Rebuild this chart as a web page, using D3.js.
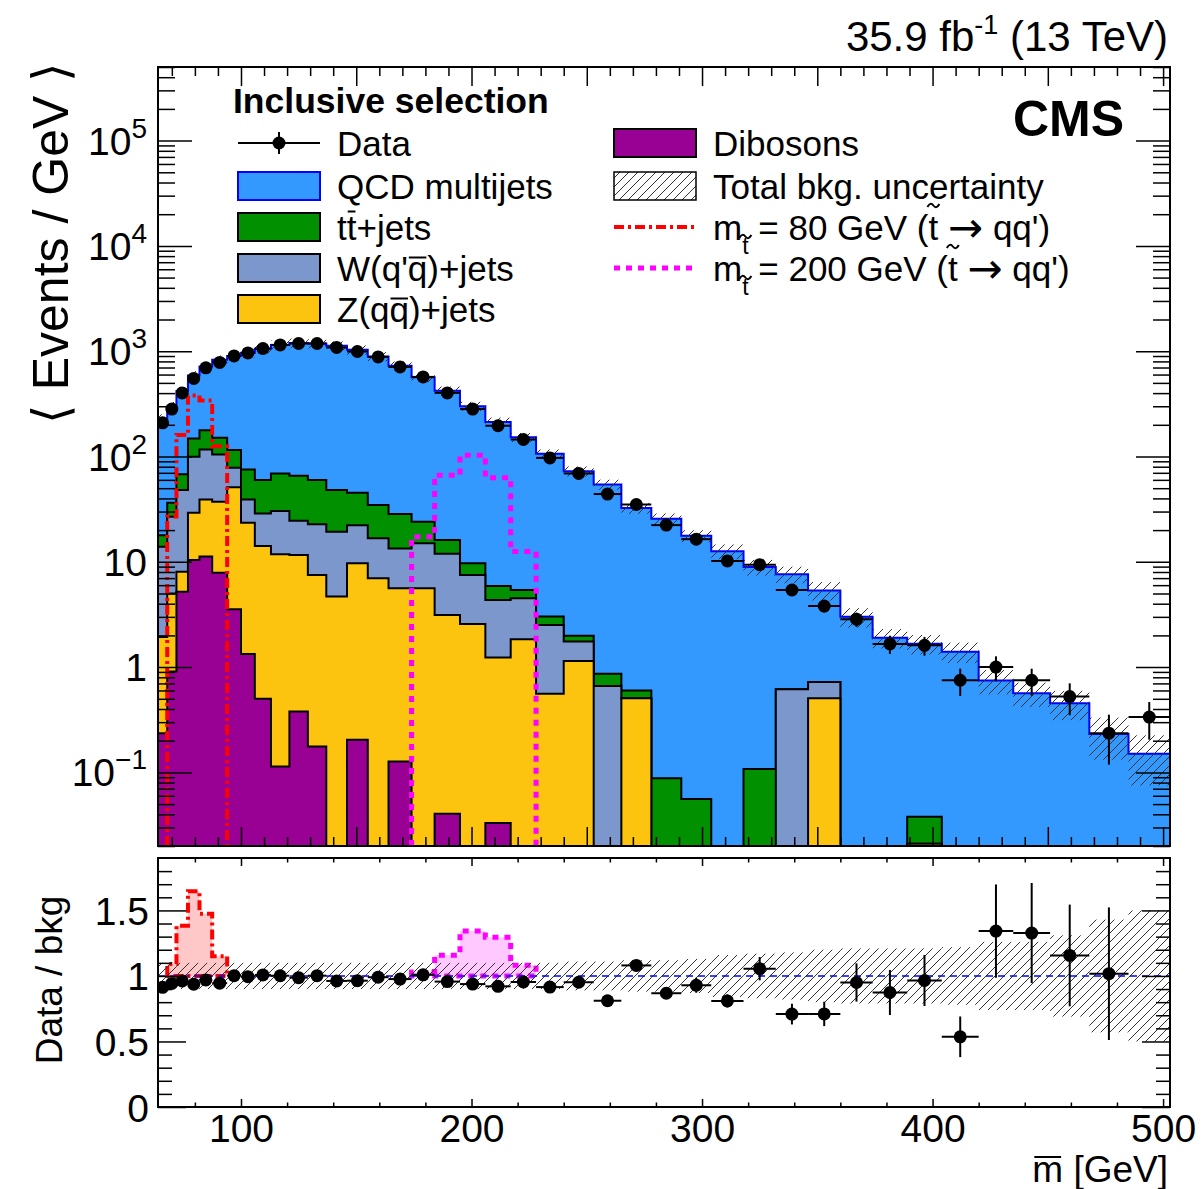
<!DOCTYPE html>
<html><head><meta charset="utf-8">
<script src="https://cdn.jsdelivr.net/npm/d3@7"></script>
<style>body{margin:0;background:#fff} svg{font-family:"Liberation Sans",Arial,Helvetica,sans-serif}</style>
</head><body><svg id="c" width="1201" height="1189"></svg>
<script>
// ---------- data ----------
const binEdges = [64,68,72,77,82,87.5,94,100,106,113,121,129,137,146,155,164,174,184,195,206,217,228,240,253,265,278,291,304,318,332,346,360,374,389,404,420,435,451,468,485,503];
const dataValues = [209,282,402,551,695,782,902,963,1061,1148,1183,1183,1084,993,883,709,570,402,282,196,145,97,69,44,35,22.3,16.4,10.2,9.4,5.4,3.8,2.85,1.66,1.61,0.75,1.0,0.75,0.525,0.236,0.335];
const ratioErrors = [0.01,0.01,0.01,0.01,0.01,0.01,0.01,0.01,0.01,0.01,0.01,0.01,0.01,0.01,0.01,0.01,0.01,0.01,0.01,0.01,0.012,0.015,0.018,0.022,0.03,0.035,0.057,0.05,0.089,0.079,0.093,0.146,0.172,0.195,0.155,0.356,0.382,0.388,0.506,0.87];
const qcd = [211,262.6,350,440,539,677,785,893,993,1077,1133,1121,1079,985,857,698,541,404,291,207,146.6,103,70.5,53.4,31.8,25.6,17.6,12.6,8.8,7.0,4.63,3.0,1.9,1.63,1.40,0.745,0.565,0.454,0.232,0.15];
const ttbar = [4.0,9.6,20,48.6,61.3,46,36.8,36.3,30.9,38.8,41.1,36.9,28.7,23.0,17.9,15.0,9.0,4.2,2.18,1.55,0.9,0.51,0.23,0.2,0.093,0.088,0.056,0,0.108,0,0,0,0,0.017,0,0,0,0,0,0];
const wjets = [11.96,21.8,39.95,70.1,77.6,67.4,27.3,15.6,14.7,18.5,13.0,15.3,14.6,12.6,9.73,7.8,9.4,8.77,4.92,3.11,2.66,1.95,0.605,0.663,0,0,0,0,0,0.616,0.213,0,0,0,0,0,0,0,0,0];
const zjets = [1.70,4.09,2.85,18.9,27.9,29.35,47.4,22.2,13.6,11.7,11.2,7.31,4.67,9.47,6.97,5.47,5.6,3.09,2.57,1.20,1.84,0.557,1.145,0,0.506,0,0,0,0,0,0.507,0,0,0.021,0,0,0,0,0,0];
const dibosons = [0.236,0.906,5.2,10.4,11.2,7.85,3.54,1.33,0.5,0.114,0.379,0.176,0,0.204,0,0.127,0,0.0405,0,0.033,0,0,0,0,0,0,0,0,0,0,0,0,0,0,0,0,0,0,0,0];
const bkgUncertainty = [0.10,0.10,0.10,0.10,0.10,0.10,0.10,0.10,0.10,0.10,0.10,0.10,0.10,0.10,0.10,0.10,0.10,0.10,0.10,0.10,0.10,0.10,0.11,0.11,0.12,0.12,0.13,0.16,0.17,0.18,0.20,0.21,0.21,0.21,0.22,0.26,0.26,0.31,0.43,0.50];
const signal80 = [0,27,160,380,340,125,0,0,0,0,0,0,0,0,0,0,0,0,0,0,0,0,0,0,0,0,0,0,0,0,0,0,0,0,0,0,0,0,0,0];
const signal200 = [0,0,0,0,0,0,0,0,0,0,0,0,0,0,0,0,17.3,66.5,103,62.8,12.5,0,0,0,0,0,0,0,0,0,0,0,0,0,0,0,0,0,0,0];
const xTickLabels = [100,200,300,400,500];
const ratioTickLabels = [0,0.5,1,1.5];
const yDecades = [-1,0,1,2,3,4,5];

// ---------- layout ----------
const L=158,R=1170,T1=67,B1=846,T2=858,B2=1107;
const FONT='"Liberation Sans",Arial,Helvetica,sans-serif';
const svg=d3.select('#c');
const x=d3.scaleLinear().domain([binEdges[0],binEdges[binEdges.length-1]]).range([L,R]);
const y=d3.scaleLog().domain([0.02,5e5]).range([B1,T1]);
const yr=d3.scaleLinear().domain([0,1.9]).range([B2,T2]);
const n=dataValues.length;

const defs=svg.append('defs');
const pat=defs.append('pattern').attr('id','hatch').attr('patternUnits','userSpaceOnUse').attr('width',9).attr('height',9);
pat.append('path').attr('d','M0,9L9,0M-2,2L2,-2M7,11L11,7').attr('stroke','#333').attr('stroke-width',1);
defs.append('clipPath').attr('id','clipMain').append('rect').attr('x',L).attr('y',T1).attr('width',R-L).attr('height',B1-T1);
defs.append('clipPath').attr('id','clipRatio').append('rect').attr('x',L).attr('y',T2).attr('width',R-L).attr('height',B2-T2);

// ---------- stack ----------
const layers=[dibosons,zjets,wjets,ttbar,qcd];
const layerColors=['#990094','#fcc40f','#7b97cc','#009000','#3399ff'];
const cum=[]; let run=new Array(n).fill(0);
layers.forEach(a=>{run=run.map((v,i)=>v+a[i]); cum.push(run.slice());});
const total=cum[4];

function stepPath(vals, ys, base){
  let d=`M${x(binEdges[0])},${base}`;
  vals.forEach((v,i)=>{const yy=v>0?Math.min(base,ys(v)):base; d+=`L${x(binEdges[i])},${yy}L${x(binEdges[i+1])},${yy}`;});
  d+=`L${x(binEdges[n])},${base}Z`;
  return d;
}
const gMain=svg.append('g').attr('clip-path','url(#clipMain)');
for(let k=4;k>=0;k--){
  gMain.append('path').attr('d',stepPath(cum[k],y,B1)).attr('fill',layerColors[k])
    .attr('stroke',k===4?'#0000ff':'#000').attr('stroke-width',2).attr('stroke-linejoin','miter');
}
// uncertainty band
gMain.selectAll('rect.unc').data(total).enter().append('rect').attr('class','unc')
  .attr('x',(d,i)=>x(binEdges[i])).attr('width',(d,i)=>x(binEdges[i+1])-x(binEdges[i]))
  .attr('y',(d,i)=>y(d*(1+bkgUncertainty[i])))
  .attr('height',(d,i)=>Math.min(B1,y(d*(1-bkgUncertainty[i])))-y(d*(1+bkgUncertainty[i])))
  .attr('fill','url(#hatch)');
// signals (main)
function sigPath(sig, ys, base, valFn){
  const idx=sig.map((v,i)=>v>0?i:-1).filter(i=>i>=0);
  const i0=idx[0], i1=idx[idx.length-1];
  let d=`M${x(binEdges[i0])},${base}`;
  for(let i=i0;i<=i1;i++){const yy=ys(valFn(i)); d+=`L${x(binEdges[i])},${yy}L${x(binEdges[i+1])},${yy}`;}
  d+=`L${x(binEdges[i1+1])},${base}`;
  return d;
}
gMain.append('path').attr('d',sigPath(signal80,y,B1,i=>signal80[i])).attr('fill','none')
  .attr('stroke','#ff0000').attr('stroke-width',4).attr('stroke-dasharray','10,4,3,4');
gMain.append('path').attr('d',sigPath(signal200,y,B1,i=>signal200[i])).attr('fill','none')
  .attr('stroke','#ff00ff').attr('stroke-width',5).attr('stroke-dasharray','6,6');
// data (main)
const gData=gMain.append('g');
dataValues.forEach((v,i)=>{
  const e=ratioErrors[i]*total[i];
  const cx=x((binEdges[i]+binEdges[i+1])/2);
  const lo=v-e>0?y(v-e):B1;
  gData.append('line').attr('x1',cx).attr('x2',cx).attr('y1',y(v+e)).attr('y2',lo).attr('stroke','#000').attr('stroke-width',2);
  gData.append('line').attr('x1',x(binEdges[i])).attr('x2',x(binEdges[i+1])).attr('y1',y(v)).attr('y2',y(v)).attr('stroke','#000').attr('stroke-width',2);
  gData.append('circle').attr('cx',cx).attr('cy',y(v)).attr('r',6.5).attr('fill','#000');
});

// ---------- ratio ----------
const gRat=svg.append('g').attr('clip-path','url(#clipRatio)');
function ratioSig(sig){
  return sigPath(sig,yr,yr(1),i=>(total[i]+sig[i])/total[i])+'Z';
}
gRat.append('path').attr('d',ratioSig(signal80)).attr('fill','#ffc8c8').attr('stroke','#ff0000')
  .attr('stroke-width',4).attr('stroke-dasharray','10,4,3,4');
gRat.append('path').attr('d',ratioSig(signal200)).attr('fill','#ffc8ff').attr('stroke','#ff00ff')
  .attr('stroke-width',5).attr('stroke-dasharray','6,6');
gRat.selectAll('rect.unc').data(bkgUncertainty).enter().append('rect').attr('class','unc')
  .attr('x',(d,i)=>x(binEdges[i])).attr('width',(d,i)=>x(binEdges[i+1])-x(binEdges[i]))
  .attr('y',d=>yr(1+d)).attr('height',d=>yr(1-d)-yr(1+d)).attr('fill','url(#hatch)');
gRat.append('line').attr('x1',L).attr('x2',R).attr('y1',yr(1)).attr('y2',yr(1))
  .attr('stroke','#0000ff').attr('stroke-width',1.5).attr('stroke-dasharray','7,5');
dataValues.forEach((v,i)=>{
  const r=v/total[i]; if(r>1.9) return;
  const e=ratioErrors[i];
  const cx=x((binEdges[i]+binEdges[i+1])/2);
  gRat.append('line').attr('x1',cx).attr('x2',cx).attr('y1',yr(r+e)).attr('y2',yr(Math.max(0,r-e))).attr('stroke','#000').attr('stroke-width',2);
  gRat.append('line').attr('x1',x(binEdges[i])).attr('x2',x(binEdges[i+1])).attr('y1',yr(r)).attr('y2',yr(r)).attr('stroke','#000').attr('stroke-width',2);
  gRat.append('circle').attr('cx',cx).attr('cy',yr(r)).attr('r',6.5).attr('fill','#000');
});

// ---------- axes / ticks ----------
function tickAxis(axisGen, tr, values, size){
  const g=svg.append('g').attr('transform',tr).call(axisGen.tickValues(values).tickSize(size).tickFormat(''));
  g.select('.domain').remove();
  g.selectAll('line').attr('stroke','#000').attr('stroke-width',1.5);
}
const xMainTicks=d3.range(70,501,10);
const xMainMajor=xMainTicks.filter(v=>v%50===0), xMainMinor=xMainTicks.filter(v=>v%50!==0);
tickAxis(d3.axisBottom(x),`translate(0,${B1})`,xMainMajor,-19);
tickAxis(d3.axisBottom(x),`translate(0,${B1})`,xMainMinor,-9);
tickAxis(d3.axisTop(x),`translate(0,${T1})`,xMainMajor,-19);
tickAxis(d3.axisTop(x),`translate(0,${T1})`,xMainMinor,-9);
const logMajor=[],logMinor=[];
for(let d=-2;d<=5;d++) for(let k=1;k<=9;k++){const v=k*Math.pow(10,d); if(v>=0.02&&v<=5e5){(k===1?logMajor:logMinor).push(v);}}
tickAxis(d3.axisLeft(y),`translate(${L},0)`,logMajor,-34);
tickAxis(d3.axisLeft(y),`translate(${L},0)`,logMinor,-17);
tickAxis(d3.axisRight(y),`translate(${R},0)`,logMajor,-34);
tickAxis(d3.axisRight(y),`translate(${R},0)`,logMinor,-17);
const xRatTicks=d3.range(80,501,20);
const xRatMajor=xRatTicks.filter(v=>v%100===0), xRatMinor=xRatTicks.filter(v=>v%100!==0);
tickAxis(d3.axisBottom(x),`translate(0,${B2})`,xRatMajor,-8);
tickAxis(d3.axisBottom(x),`translate(0,${B2})`,xRatMinor,-4.5);
tickAxis(d3.axisTop(x),`translate(0,${T2})`,xRatMajor,-8);
tickAxis(d3.axisTop(x),`translate(0,${T2})`,xRatMinor,-4.5);
const yRatTicks=d3.range(0,19).map(v=>v/10);
const yRatMajor=yRatTicks.filter(v=>Math.round(v*10)%5===0), yRatMinor=yRatTicks.filter(v=>Math.round(v*10)%5!==0);
tickAxis(d3.axisLeft(yr),`translate(${L},0)`,yRatMajor,-28);
tickAxis(d3.axisLeft(yr),`translate(${L},0)`,yRatMinor,-14);
tickAxis(d3.axisRight(yr),`translate(${R},0)`,yRatMajor,-28);
tickAxis(d3.axisRight(yr),`translate(${R},0)`,yRatMinor,-14);

// frames
[[T1,B1],[T2,B2]].forEach(([t,b])=>svg.append('rect').attr('x',L).attr('y',t).attr('width',R-L).attr('height',b-t)
  .attr('fill','none').attr('stroke','#000').attr('stroke-width',2));

// tick labels
const LBL=39;
const gx=svg.append('g').attr('transform',`translate(0,${B2})`)
  .call(d3.axisBottom(x).tickValues(xTickLabels).tickSize(0).tickPadding(7).tickFormat(d3.format('d')));
gx.select('.domain').remove();
gx.attr('font-family',FONT).attr('font-size',LBL);
gx.selectAll('text').attr('fill','#000');
const gyr=svg.append('g').attr('transform',`translate(${L},0)`)
  .call(d3.axisLeft(yr).tickValues(ratioTickLabels).tickSize(0).tickPadding(9).tickFormat(d=>String(d)));
gyr.select('.domain').remove();
gyr.attr('font-family',FONT).attr('font-size',LBL);
gyr.selectAll('text').attr('fill','#000').attr('dy','0.36em');
yDecades.forEach(dd=>{
  const t=svg.append('text').attr('x',147).attr('y',y(Math.pow(10,dd))+14).attr('text-anchor','end')
    .attr('font-family',FONT).attr('font-size',LBL);
  if(dd===0) t.text('1');
  else if(dd===1) t.text('10');
  else { t.append('tspan').text('10'); t.append('tspan').attr('font-size',28).attr('dy',-17).text(dd<0?'\u2212'+(-dd):String(dd)); }
});

// axis titles
svg.append('text').attr('transform','translate(68,243) rotate(-90)').attr('text-anchor','middle')
  .attr('font-family',FONT).attr('font-size',50).text('\u27E8 Events / GeV \u27E9');
svg.append('text').attr('transform','translate(62,980) rotate(-90)').attr('text-anchor','middle')
  .attr('font-family',FONT).attr('font-size',37).text('Data / bkg');
const xt=svg.append('text').attr('x',1168).attr('y',1182).attr('text-anchor','end')
  .attr('font-family',FONT).attr('font-size',37).text('m [GeV]');

function overline(textSel, idx, raise, pad){
  const node=textSel.node();
  const s=node.getStartPositionOfChar(idx), e=node.getEndPositionOfChar(idx);
  svg.append('line').attr('x1',s.x+(pad||1)).attr('x2',e.x-(pad||1)).attr('y1',s.y-raise).attr('y2',s.y-raise)
    .attr('stroke','#000').attr('stroke-width',2);
}
function tilde(textSel, idx, cyOff){
  const node=textSel.node();
  const s=node.getStartPositionOfChar(idx), e=node.getEndPositionOfChar(idx);
  const w=Math.max(12,(e.x-s.x)*1.1), cx=(s.x+e.x)/2, cy=s.y+cyOff, x0=cx-w/2;
  svg.append('path').attr('d',`M${x0},${cy+1.5}Q${x0+w/4},${cy-4} ${x0+w/2},${cy}T${x0+w},${cy-1.5}`)
    .attr('fill','none').attr('stroke','#000').attr('stroke-width',2);
}
overline(xt,0,25,2);

// header texts
const lumi=svg.append('text').attr('x',1168).attr('y',51).attr('text-anchor','end').attr('font-family',FONT).attr('font-size',42);
lumi.append('tspan').text('35.9 fb');
lumi.append('tspan').attr('font-size',27).attr('dy',-17).text('-1');
lumi.append('tspan').attr('dy',17).text(' (13 TeV)');
svg.append('text').attr('x',1124).attr('y',136).attr('text-anchor','end').attr('font-family',FONT)
  .attr('font-weight','bold').attr('font-size',50).text('CMS');
svg.append('text').attr('x',233).attr('y',113).attr('font-family',FONT).attr('font-weight','bold').attr('font-size',35.5).text('Inclusive selection');

// legend
const LF=35;
const leftRows=[143,186,227,268,309], rightRows=[143,186,227,268];
const bx0=238,bx1=320,tx0=337, rbx0=614,rbx1=696,rtx0=713;
// Data
svg.append('line').attr('x1',bx0).attr('x2',bx1).attr('y1',leftRows[0]).attr('y2',leftRows[0]).attr('stroke','#000').attr('stroke-width',2);
svg.append('line').attr('x1',(bx0+bx1)/2).attr('x2',(bx0+bx1)/2).attr('y1',leftRows[0]-11).attr('y2',leftRows[0]+11).attr('stroke','#000').attr('stroke-width',2);
svg.append('circle').attr('cx',(bx0+bx1)/2).attr('cy',leftRows[0]).attr('r',6.5).attr('fill','#000');
function legText(xp,yc,str){return svg.append('text').attr('x',xp).attr('y',yc+12.5).attr('font-family',FONT).attr('font-size',LF).text(str);}
legText(tx0,leftRows[0],'Data');
const boxEntries=[[4,'QCD multijets',1],[3,'tt+jets',2],[2,"W(q'q)+jets",3],[1,'Z(qq)+jets',4]];
boxEntries.forEach(([k,label,row])=>{
  svg.append('rect').attr('x',bx0).attr('y',leftRows[row]-14).attr('width',bx1-bx0).attr('height',28)
    .attr('fill',layerColors[k]).attr('stroke',k===4?'#0000ff':'#000').attr('stroke-width',2);
});
legText(tx0,leftRows[1],'QCD multijets');
const ttT=legText(tx0,leftRows[2],'tt+jets'); overline(ttT,1,28,1);
const wT=legText(tx0,leftRows[3],"W(q'q)+jets"); overline(wT,4,23,1);
const zT=legText(tx0,leftRows[4],'Z(qq)+jets'); overline(zT,3,23,1);
// right column
svg.append('rect').attr('x',rbx0).attr('y',rightRows[0]-14).attr('width',rbx1-rbx0).attr('height',28)
  .attr('fill',layerColors[0]).attr('stroke','#000').attr('stroke-width',2);
legText(rtx0,rightRows[0],'Dibosons');
svg.append('rect').attr('x',rbx0).attr('y',rightRows[1]-14).attr('width',rbx1-rbx0).attr('height',28)
  .attr('fill','url(#hatch)').attr('stroke','#000').attr('stroke-width',1.5);
legText(rtx0,rightRows[1],'Total bkg. uncertainty');
svg.append('line').attr('x1',rbx0).attr('x2',rbx1).attr('y1',rightRows[2]).attr('y2',rightRows[2])
  .attr('stroke','#ff0000').attr('stroke-width',4).attr('stroke-dasharray','10,4,3,4');
svg.append('line').attr('x1',rbx0).attr('x2',rbx1).attr('y1',rightRows[3]).attr('y2',rightRows[3])
  .attr('stroke','#ff00ff').attr('stroke-width',5).attr('stroke-dasharray','6,6');
[[2,'80'],[3,'200']].forEach(([row,mass])=>{
  const t=svg.append('text').attr('x',rtx0).attr('y',rightRows[row]+12.5).attr('font-family',FONT).attr('font-size',LF);
  t.append('tspan').text('m');
  t.append('tspan').attr('font-size',23).attr('dy',14).text('t');
  t.append('tspan').attr('dy',-14).text(` = ${mass} GeV (`);
  t.append('tspan').text('t ');
  t.append('tspan').attr('font-family','"DejaVu Sans",sans-serif').attr('font-size',42).attr('dy',2).text('\u2192');
  t.append('tspan').attr('dy',-2).text(" qq')");
  tilde(t,1,-17);
  const idxT=2+(` = ${mass} GeV (`).length;
  tilde(t,idxT,-34);
});
</script></body></html>
